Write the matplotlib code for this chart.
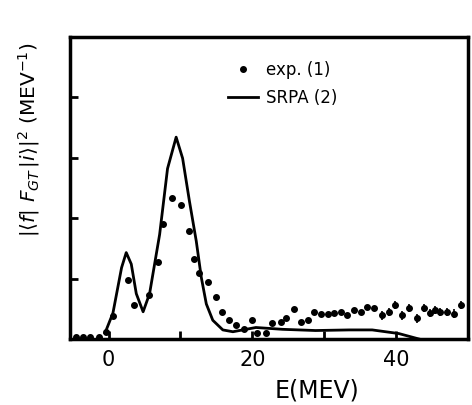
import matplotlib
matplotlib.use("Agg")
import matplotlib.pyplot as plt
import numpy as np

# SRPA (2) curve
srpa_e = [-0.5, 0.6, 1.8, 2.45, 3.15, 3.85, 4.8, 5.7, 7.1, 8.2, 9.4, 10.3, 11.25,
          12.2, 12.9, 13.6, 14.5, 15.9, 17.3, 20.5, 24.2, 28.8, 33.5, 36.7, 40.4, 43.2]
srpa_s = [0.1, 0.43, 1.18, 1.43, 1.24, 0.75, 0.45, 0.75, 1.73, 2.82, 3.34, 2.99, 2.28,
          1.62, 1.02, 0.58, 0.31, 0.15, 0.12, 0.19, 0.16, 0.14, 0.15, 0.15, 0.09, 0.0]

# exp. (1) points
exp_e = [-4.5, -3.6, -2.6, -1.35, -0.4, 0.6, 2.7, 3.6, 5.6, 6.85, 7.5, 8.8, 10.1,
         11.15, 11.85, 12.6, 13.9, 14.95, 15.8, 16.8, 17.8, 18.9, 20.0, 20.7, 21.9,
         22.8, 24.0, 24.7, 25.8, 26.8, 27.7, 28.6, 29.5, 30.5, 31.4, 32.3, 33.2,
         34.2, 35.1, 36.0, 36.9, 38.1, 39.0, 39.9, 40.9, 41.8, 42.96, 43.9, 44.8,
         45.5, 46.2, 47.1, 48.1, 49.0]
exp_s = [0.03, 0.03, 0.03, 0.04, 0.12, 0.38, 0.97, 0.56, 0.72, 1.27, 1.9, 2.34, 2.21,
         1.79, 1.32, 1.10, 0.94, 0.70, 0.45, 0.32, 0.23, 0.16, 0.31, 0.10, 0.10,
         0.27, 0.28, 0.34, 0.5, 0.28, 0.31, 0.45, 0.42, 0.42, 0.43, 0.45, 0.40,
         0.48, 0.45, 0.53, 0.51, 0.39, 0.45, 0.56, 0.39, 0.51, 0.34, 0.51, 0.43,
         0.48, 0.45, 0.45, 0.42, 0.56]

x_ticks = [0, 20, 40]
x_minor = [10, 30]
y_ticks = [1, 2, 3, 4]

fig = plt.figure(figsize=(4.72, 4.05), dpi=100)
ax = fig.add_axes([0.148, 0.163, 0.843, 0.746])

ax.plot(srpa_e, srpa_s, color="black", lw=2, label="SRPA (2)")
ax.plot(exp_e, exp_s, "o", color="black", ms=4, label="exp. (1)")

# small error bars on the high-energy tail
exp_e_arr = np.array(exp_e)
exp_s_arr = np.array(exp_s)
tail = exp_e_arr > 38
ax.errorbar(exp_e_arr[tail], exp_s_arr[tail], yerr=0.07, fmt="none",
            ecolor="black", elinewidth=1.2)

ax.set_xlim(-5.4, 50)
ax.set_ylim(0, 5)
ax.set_xticks(x_ticks)
ax.set_xticks(x_minor, minor=True)
ax.set_yticks(y_ticks)
ax.set_yticklabels([])
ax.tick_params(direction="in", width=2, length=6, labelsize=15, pad=8)
ax.tick_params(which="minor", direction="in", width=2, length=6)
for sp in ax.spines.values():
    sp.set_linewidth(2.5)

ax.set_xlabel("E(MEV)", fontsize=17)
ax.xaxis.set_label_coords(0.62, -0.13)
ax.set_ylabel(r"$|\langle f|\ F_{GT}\,|i\rangle|^2\ (\mathrm{MEV}^{-1})$", fontsize=14.5)
ax.yaxis.set_label_coords(-0.07, 0.66)

handles, labels = ax.get_legend_handles_labels()
ax.legend(handles[::-1], labels[::-1], loc="upper left", bbox_to_anchor=(0.36, 0.97),
          frameon=False, fontsize=12, handlelength=1.8, handletextpad=0.5,
          labelspacing=0.6)

fig.savefig("out.png", dpi=100)
